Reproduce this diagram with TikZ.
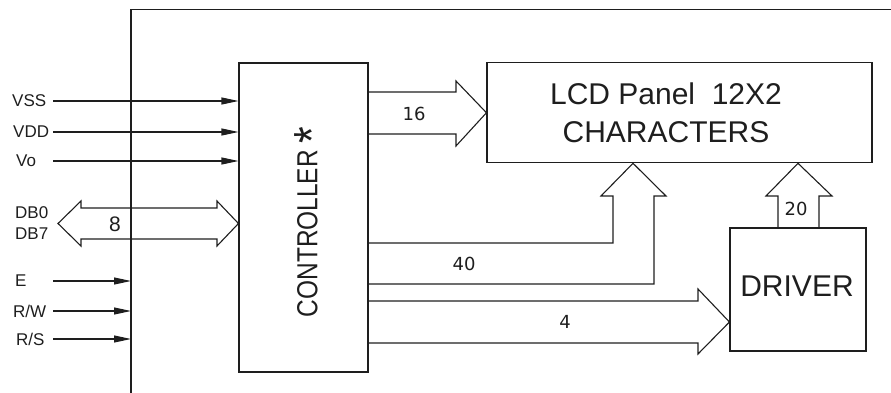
\documentclass[tikz,border=0pt]{standalone}
\usepackage{fontspec}
\setmainfont{Liberation Sans}
\newfontfamily\numfont{DejaVu Sans}
\usetikzlibrary{arrows.meta,calc}
\definecolor{ink}{HTML}{1E1E1E}
\tikzset{
  box/.style={draw=ink, line width=1.1pt, inner sep=0pt},
  bus/.style={draw=ink, line width=1.1pt, line join=miter},
  sig/.style={draw=ink, line width=1.1pt, -{Triangle[length=17pt,width=7pt]}},
  pin/.style={text=ink, font=\fontsize{17}{17}\selectfont, anchor=west, inner sep=0pt},
  big/.style={text=ink, font=\fontsize{30}{38}\selectfont, align=center},
  num/.style={text=ink, font=\numfont\fontsize{18}{18}\selectfont}
}

\begin{document}
\begin{tikzpicture}[x=1pt, y=-1pt]
  \useasboundingbox (0,0) rectangle (891,393);

  % module outline
  \coordinate (frame) at (131,9.5);
  \draw[draw=ink, line width=1.3pt] (891,9.5) -- (frame) -- (131,393);

  % blocks
  \node[box, minimum width=129pt, minimum height=309pt] (ctrl) at (303.5,217.5) {};
  \node[box, minimum width=385pt, minimum height=100pt] (lcd) at (679.5,112.75) {};
  \node[box, minimum width=136pt, minimum height=123pt] (drv) at (798,289.5) {};

  \node[big, font=\fontsize{29}{29}\selectfont, rotate=90, xscale=0.843, inner sep=0pt] (ctrltxt) at (312,222)
    {CONTROLLER\hspace{8pt}\raisebox{-12pt}{\scalebox{1.75}{*}}};
  \node[big] (lcdtxt) at (666,112.5) {LCD Panel~~12X2\\CHARACTERS};
  \node[big] (drvtxt) at (797,286) {DRIVER};

  % power pins
  \foreach \lab/\y/\lx [count=\i] in {VSS/101/12, VDD/132/13, Vo/161/16} {
    \node[pin] (pw\i) at (\lx,\y) {\lab};
    \draw[sig] (pw\i.east -| 53,0) -- (pw\i.east -| ctrl.west);
  }

  % control pins
  \foreach \lab/\y/\lx [count=\i] in {E/281/15, R\slash W/311/13, R\slash S/339/16} {
    \node[pin] (ct\i) at (\lx,\y) {\lab};
    \draw[sig] (ct\i.east -| 53,0) -- (ct\i.east -| frame);
  }

  % data bus
  \node[pin] (db0) at (15,213) {DB0};
  \node[pin] (db7) at (15,234) {DB7};
  \draw[bus] (58,223.5) -- (81,201) -- (81,208) -- (217,208) -- (217,201)
    -- (ctrl.west |- 0,223.5) -- (217,246) -- (217,239) -- (81,239) -- (81,246) -- cycle;
  \node[text=ink, font=\fontsize{21}{21}\selectfont] (w8) at (115,224) {8};

  % controller -> panel
  \draw[bus] (ctrl.east |- 0,92) -- (456,92) -- (456,81) -- (lcd.west)
    -- (456,146) -- (456,134) -- (ctrl.east |- 0,134);
  \node[num] (w16) at (414,114) {16};

  \draw[bus] (ctrl.east |- 0,243) -- (613,243) -- (613,196) -- (601,196)
    -- (lcd.south -| 633,0) -- (666,196) -- (654,196) -- (654,284) -- (ctrl.east |- 0,284);
  \node[num] (w40) at (464,264) {40};

  % controller -> driver
  \draw[bus] (ctrl.east |- 0,301) -- (698,301) -- (698,289) -- (drv.west |- 0,322)
    -- (698,354) -- (698,343) -- (ctrl.east |- 0,343);
  \node[num] (w4) at (565,322) {4};

  % driver -> panel
  \draw[bus] (drv.north -| 778,0) -- (778,196) -- (766,196) -- (drv.north |- lcd.south)
    -- (832,196) -- (819,196) -- (drv.north -| 819,0);
  \node[num] (w20) at (796,209) {20};
\end{tikzpicture}
\end{document}
